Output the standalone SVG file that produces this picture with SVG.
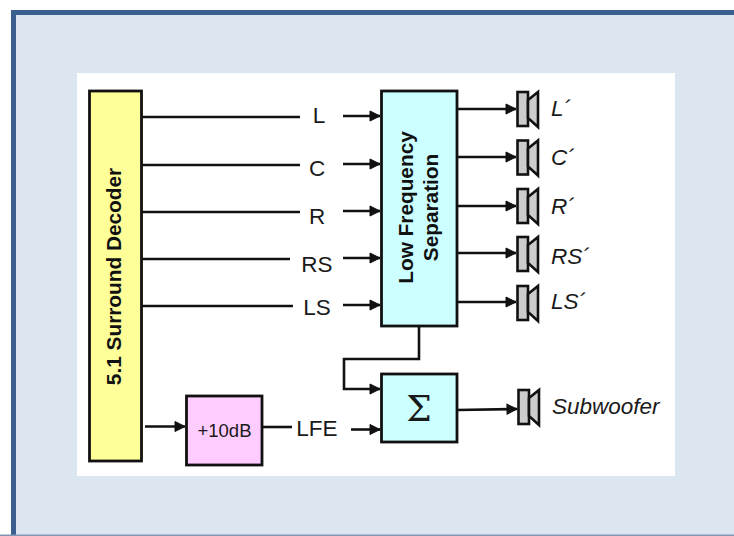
<svg xmlns="http://www.w3.org/2000/svg" width="734" height="536" viewBox="0 0 734 536">
<defs>
<style>
.box{stroke:#111;stroke-width:2.800}
.w{fill:none;stroke:#111;stroke-width:2.600}
.a{fill:#111;stroke:#111;stroke-width:1}
.s{fill:#ccc;stroke:#111;stroke-width:2.600}
text{font-family:"Liberation Sans",Arial,sans-serif;fill:#1a1a1a}
.l{font-size:22.500px;text-anchor:middle}
.i{font-size:22.500px;font-style:italic}
.b{font-size:20.800px;font-weight:bold;text-anchor:middle;fill:#111}
</style>
<marker id="ah" markerUnits="userSpaceOnUse" markerWidth="13" markerHeight="14" refX="11" refY="7" orient="auto"><path d="M1 2 L11 7 L1 12 Z" class="a"/></marker>
<g id="spk"><rect class="s" x="517.500" y="-17" width="10.500" height="34"/><path class="s" d="M528 -9 L538 -17 V18 L528 9 Z"/></g>
</defs>
<rect x="13.500" y="12.500" width="730" height="530" fill="#dce6f1" stroke="#3b608f" stroke-width="5"/>
<rect x="0" y="534.500" width="734" height="1.500" fill="#7f95b2"/>
<rect x="77" y="73" width="598" height="403" fill="#fff"/>
<g id="connectors">
<path class="w" d="M141 117 H300"/><path class="w" d="M141 165 H300"/><path class="w" d="M141 212 H300"/><path class="w" d="M141 259 H290"/><path class="w" d="M141 306 H293"/>
<path class="w" marker-end="url(#ah)" d="M343 116 H380"/><path class="w" marker-end="url(#ah)" d="M343 164 H380"/><path class="w" marker-end="url(#ah)" d="M343 211 H380"/><path class="w" marker-end="url(#ah)" d="M343 258 H380"/><path class="w" marker-end="url(#ah)" d="M343 305 H380"/>
<path class="w" marker-end="url(#ah)" d="M457 109 H516"/><path class="w" marker-end="url(#ah)" d="M457 157 H516"/><path class="w" marker-end="url(#ah)" d="M457 206 H516"/><path class="w" marker-end="url(#ah)" d="M457 253 H516"/><path class="w" marker-end="url(#ah)" d="M457 302 H516"/>
<path class="w" marker-end="url(#ah)" d="M419 326 V359 H344 V389 H380"/>
<path class="w" marker-end="url(#ah)" d="M457 410 L517 409"/>
<path class="w" marker-end="url(#ah)" d="M145 426.500 H185"/>
<path class="w" d="M262 427 H292"/>
<path class="w" marker-end="url(#ah)" d="M351 429.500 H380"/>
</g>
<g id="decoder"><rect class="box" x="89.500" y="91" width="52" height="370" fill="#ffff99"/><text class="b" transform="translate(121 276.500) rotate(-90)">5.1 Surround Decoder</text></g>
<g id="lfs"><rect class="box" x="381.500" y="91" width="75.500" height="235" fill="#ccffff"/><text class="b" transform="translate(413 207.500) rotate(-90)">Low Frequency</text><text class="b" transform="translate(437.500 207.500) rotate(-90)">Separation</text></g>
<g id="sum"><rect class="box" x="381.500" y="374" width="75.500" height="68" fill="#ccffff"/><text x="419" y="421" font-size="36" text-anchor="middle" style="font-family:'DejaVu Serif',serif;font-weight:normal" fill="#222">Σ</text></g>
<g id="gain"><rect class="box" x="186.500" y="396" width="75.500" height="69" fill="#ffccff"/><text x="224.500" y="437" font-size="18.500" text-anchor="middle">+10dB</text></g>
<g id="labels">
<text class="l" x="319" y="123">L</text><text class="l" x="317" y="176">C</text><text class="l" x="317" y="224">R</text><text class="l" x="317" y="272">RS</text><text class="l" x="317" y="315">LS</text><text class="l" x="317" y="436">LFE</text>
</g>
<g id="speaker-l"><use href="#spk" y="109"/><text class="i" x="551" y="116">L´</text></g>
<g id="speaker-c"><use href="#spk" y="157.500"/><text class="i" x="551" y="165">C´</text></g>
<g id="speaker-r"><use href="#spk" y="206"/><text class="i" x="551" y="214">R´</text></g>
<g id="speaker-rs"><use href="#spk" y="254"/><text class="i" x="551" y="264">RS´</text></g>
<g id="speaker-ls"><use href="#spk" y="303"/><text class="i" x="551" y="309">LS´</text></g>
<g id="speaker-sub"><use href="#spk" x="1" y="407"/><text class="i" x="552" y="414">Subwoofer</text></g>
</svg>
